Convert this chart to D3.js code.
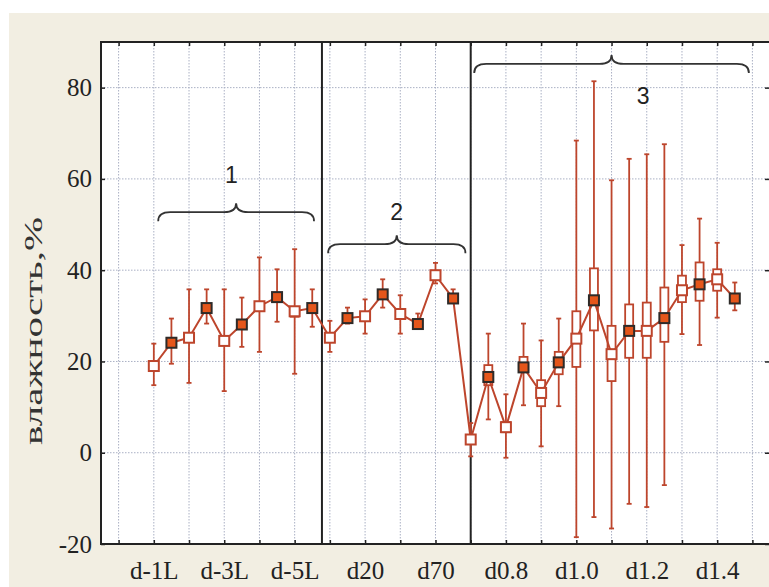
<!DOCTYPE html>
<html>
<head>
<meta charset="utf-8">
<script src="https://cdn.jsdelivr.net/npm/d3@7"></script>
<style>
  body { margin: 0; background: #ffffff; }
  .serif { font-family: "Liberation Serif", "Times New Roman", Times, serif; }
</style>
</head>
<body>
<div id="plot"></div>
<script>
// data
var categories = ["d-1L","d-1R","d-2L","d-2R","d-3L","d-3R","d-4L","d-4R","d-5L","d-5R",
  "d10","d15","d20","d30","d40","d50","d70","d90",
  "d0.7","d0.75","d0.8","d0.85","d0.9","d0.95","d1.0","d1.05","d1.1","d1.15","d1.2","d1.25","d1.3","d1.35","d1.4","d1.45"];
var centerVal = [19.0,24.1,25.2,31.7,24.5,28.1,32.1,34.1,31.0,31.7,
  25.2,29.5,29.9,34.7,30.4,28.2,38.9,33.8,
  2.9,16.6,5.6,18.7,13.1,19.8,25.0,33.4,21.6,26.7,26.7,29.5,35.6,36.9,38.0,33.8];
var whiskerHi = [23.9,29.4,35.8,35.8,35.8,34.0,42.8,40.2,44.6,35.8,
  28.9,31.8,33.6,38.0,34.5,30.5,41.6,35.8,
  6.5,26.1,12.8,28.3,24.6,29.4,68.4,81.4,59.7,64.4,65.4,67.6,45.5,51.3,46.0,37.3];
var whiskerLo = [14.8,19.5,15.3,28.3,13.5,23.2,22.1,28.7,17.3,27.6,
  22.1,28.3,26.1,31.8,26.1,28.0,37.1,33.0,
  -0.8,7.3,-1.1,10.4,1.4,10.2,-18.5,-14.1,-16.6,-11.2,-11.9,-7.1,26.0,23.6,29.6,31.2];
var boxHi = [null,null,null,null,null,null,null,null,31.7,null,
  null,null,null,null,null,null,null,null,
  null,19.2,6.7,21.0,15.9,22.1,31.0,40.4,27.8,32.5,32.9,36.2,38.8,41.7,40.2,null];
var boxLo = [null,null,null,null,null,null,null,null,29.8,null,
  null,null,null,null,null,null,null,null,
  null,14.8,4.5,17.7,10.2,17.2,18.8,26.8,15.7,20.8,20.8,24.3,33.0,33.3,35.5,null];
var markerType = ["open","filled","open","filled","open","filled","open","filled","open","filled",
  "open","filled","open","filled","open","filled","open","filled",
  "open","filled","open","filled","open","filled","open","filled","open","filled","open","filled","open","filled","open","filled"];

var yTicks = [-20, 0, 20, 40, 60, 80];
var xTickIdx = [0, 4, 8, 12, 16, 20, 24, 28, 32];
var xTickLabels = ["d-1L","d-3L","d-5L","d20","d70","d0.8","d1.0","d1.2","d1.4"];
var gridIdx = d3.range(-2, 35, 2);
var separatorIdx = [9.55, 18];
var groupNames = ["1", "2", "3"];
var groupFrom = [0.25, 9.9, 18.2];
var groupTo = [9.1, 17.7, 33.8];
var groupBraceY = [52.7, 45.7, 85.2];
var groupLabelX = [4.4, 13.8, 27.8];
var groupLabelY = [59.1, 51.0, 76.4];
var yTitle = "влажность,%";

var width = 769, height = 587;
var lineColor = "#bd452c";

var svg = d3.select("#plot")
  .append("svg")
  .attr("width", width)
  .attr("height", height);

//beige panel
svg.append("rect")
  .attr("x", 9).attr("y", 13)
  .attr("width", width - 9).attr("height", height - 13)
  .attr("fill", "#f2eee2");

var x = d3.scaleLinear().domain([-3, 35]).range([101, 770]);
var y = d3.scaleLinear().domain([-20, 90]).range([544, 42]);

//white plot area
svg.append("rect")
  .attr("x", x(-3)).attr("y", y(90))
  .attr("width", x(35) - x(-3)).attr("height", y(-20) - y(90))
  .attr("fill", "#ffffff");

//grid
svg.append("g").selectAll("line")
  .data(gridIdx).enter().append("line")
  .attr("x1", function(d) { return x(d); }).attr("x2", function(d) { return x(d); })
  .attr("y1", y(90)).attr("y2", y(-20))
  .attr("stroke", "#aab0c4").attr("stroke-width", 1).attr("stroke-dasharray", "1.5,1.5");
svg.append("g").selectAll("line")
  .data(yTicks).enter().append("line")
  .attr("x1", x(-3)).attr("x2", x(35))
  .attr("y1", function(d) { return y(d); }).attr("y2", function(d) { return y(d); })
  .attr("stroke", "#aab0c4").attr("stroke-width", 1).attr("stroke-dasharray", "1.5,1.5");

//axes (ticks pointing inward)
var yAxis = d3.axisLeft(y).tickValues(yTicks).tickSize(-4).tickPadding(9)
  .tickFormat(function(d) { return String(d); });
var gy = svg.append("g").attr("transform", "translate(" + x(-3) + ",0)").call(yAxis);
gy.select(".domain").remove();
var yAxisR = d3.axisRight(y).tickValues(yTicks).tickSize(-4).tickFormat("");
var gyr = svg.append("g").attr("transform", "translate(" + (x(35) - 1) + ",0)").call(yAxisR);
gyr.select(".domain").remove();

var xAxis = d3.axisBottom(x).tickValues(xTickIdx)
  .tickFormat(function(d, i) { return xTickLabels[i]; }).tickSize(0).tickPadding(17);
var gx = svg.append("g").attr("transform", "translate(0," + y(-20) + ")").call(xAxis);
gx.select(".domain").remove();
var xTicksB = d3.axisBottom(x).tickValues(gridIdx).tickSize(-4).tickFormat("");
var gxb = svg.append("g").attr("transform", "translate(0," + y(-20) + ")").call(xTicksB);
gxb.select(".domain").remove();
var xTicksT = d3.axisTop(x).tickValues(gridIdx).tickSize(-4).tickFormat("");
var gxt = svg.append("g").attr("transform", "translate(0," + y(90) + ")").call(xTicksT);
gxt.select(".domain").remove();

svg.selectAll(".tick line").attr("stroke", "#222").attr("stroke-width", 1.5);
svg.selectAll("g").attr("font-family", null);
svg.selectAll(".tick text")
  .attr("class", "serif")
  .style("font-size", "25px")
  .attr("fill", "#222");

//frame
svg.append("path")
  .attr("d", "M" + x(35) + "," + y(90) + "H" + x(-3) + "V" + y(-20) + "H" + x(35))
  .attr("fill", "none").attr("stroke", "#222").attr("stroke-width", 2);

//group separators
svg.append("g").selectAll("line")
  .data(separatorIdx).enter().append("line")
  .attr("x1", function(d) { return x(d); }).attr("x2", function(d) { return x(d); })
  .attr("y1", y(90)).attr("y2", y(-20))
  .attr("stroke", "#222").attr("stroke-width", 2);

//y title
svg.append("text")
  .attr("class", "serif")
  .attr("transform", "translate(42," + 331 + ") rotate(-90)")
  .attr("text-anchor", "middle")
  .style("font-size", "25px")
  .attr("fill", "#333")
  .attr("textLength", 228)
  .attr("lengthAdjust", "spacingAndGlyphs")
  .text(yTitle);

//braces
function bracePath(a, b, yv) {
  var x1 = x(a), x2 = x(b), yl = y(yv), xm = (x1 + x2) / 2;
  return "M" + x1 + "," + (yl + 9) +
    "Q" + x1 + "," + yl + " " + (x1 + 12) + "," + yl +
    "L" + (xm - 12) + "," + yl +
    "Q" + xm + "," + yl + " " + xm + "," + (yl - 9) +
    "Q" + xm + "," + yl + " " + (xm + 12) + "," + yl +
    "L" + (x2 - 12) + "," + yl +
    "Q" + x2 + "," + yl + " " + x2 + "," + (yl + 9);
}
groupNames.forEach(function(g, i) {
  svg.append("path")
    .attr("d", bracePath(groupFrom[i], groupTo[i], groupBraceY[i]))
    .attr("fill", "none").attr("stroke", "#333").attr("stroke-width", 1.8);
  svg.append("text")
    .attr("x", x(groupLabelX[i])).attr("y", y(groupLabelY[i]))
    .attr("text-anchor", "middle")
    .attr("font-family", "'Liberation Sans', Arial, sans-serif")
    .attr("font-size", "23px")
    .attr("fill", "#222")
    .text(g);
});

var idx = d3.range(categories.length);

//whiskers
var wg = svg.append("g").attr("stroke", lineColor).attr("stroke-width", 1.8);
wg.selectAll(".wh").data(idx).enter().append("line")
  .attr("x1", function(i) { return x(i); }).attr("x2", function(i) { return x(i); })
  .attr("y1", function(i) { return y(whiskerHi[i]); })
  .attr("y2", function(i) { return y(whiskerLo[i]); });
wg.selectAll(".capH").data(idx).enter().append("line")
  .attr("x1", function(i) { return x(i) - 2.5; }).attr("x2", function(i) { return x(i) + 2.5; })
  .attr("y1", function(i) { return y(whiskerHi[i]); })
  .attr("y2", function(i) { return y(whiskerHi[i]); });
wg.selectAll(".capL").data(idx).enter().append("line")
  .attr("x1", function(i) { return x(i) - 2.5; }).attr("x2", function(i) { return x(i) + 2.5; })
  .attr("y1", function(i) { return y(whiskerLo[i]); })
  .attr("y2", function(i) { return y(whiskerLo[i]); });

//boxes
svg.append("g").selectAll("rect")
  .data(idx.filter(function(i) { return boxHi[i] != null; }))
  .enter().append("rect")
  .attr("x", function(i) { return x(i) - 4; })
  .attr("y", function(i) { return y(boxHi[i]); })
  .attr("width", 8)
  .attr("height", function(i) { return y(boxLo[i]) - y(boxHi[i]); })
  .attr("fill", "#ffffff").attr("stroke", lineColor).attr("stroke-width", 1.8);

//connecting line
var line = d3.line()
  .x(function(i) { return x(i); })
  .y(function(i) { return y(centerVal[i]); });
svg.append("path")
  .datum(idx)
  .attr("d", line)
  .attr("fill", "none").attr("stroke", lineColor).attr("stroke-width", 2);

//markers
svg.append("g").selectAll("rect")
  .data(idx).enter().append("rect")
  .attr("x", function(i) { return x(i) - 5; })
  .attr("y", function(i) { return y(centerVal[i]) - 5; })
  .attr("width", 10).attr("height", 10)
  .attr("fill", function(i) { return markerType[i] == "filled" ? "#e5561b" : "#ffffff"; })
  .attr("stroke", function(i) { return markerType[i] == "filled" ? "#2e2a28" : lineColor; })
  .attr("stroke-width", 2);
</script>
</body>
</html>
